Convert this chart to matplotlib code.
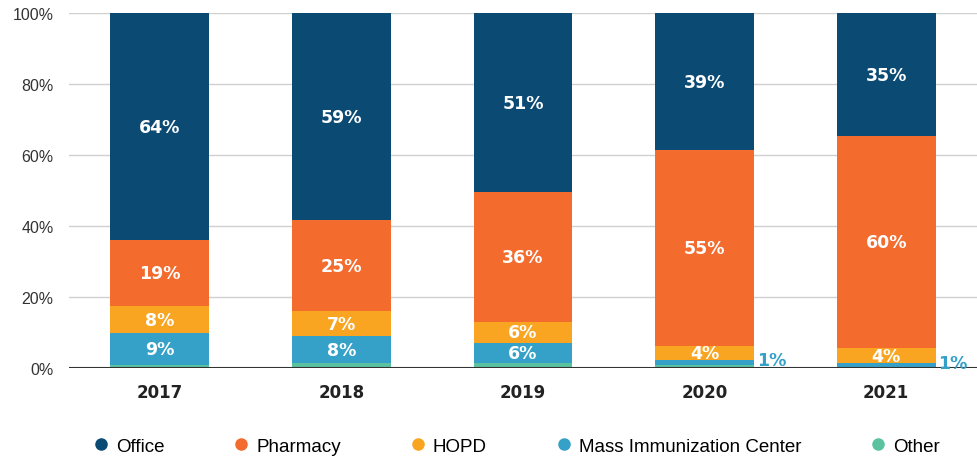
import numpy as np
import matplotlib.pyplot as plt
from matplotlib.lines import Line2D

# Sample data (share of vaccinations by site, %)
years = ['2017', '2018', '2019', '2020', '2021']
other = [0.8, 1.3, 1.3, 0.8, 0.4]
mass_imm = [9.0, 7.6, 5.8, 1.4, 0.9]
hopd = [7.6, 7.1, 5.8, 3.9, 4.3]
pharmacy = [18.6, 25.6, 36.6, 55.3, 59.8]
office = [64.0, 58.4, 50.5, 38.6, 34.6]

# labels shown on the chart
lbl_mass = ['9%', '8%', '6%', '1%', '1%']
lbl_hopd = ['8%', '7%', '6%', '4%', '4%']
lbl_pharmacy = ['19%', '25%', '36%', '55%', '60%']
lbl_office = ['64%', '59%', '51%', '39%', '35%']

colors = {
    'Office': '#0b4a73',
    'Pharmacy': '#f36b2d',
    'HOPD': '#f9a521',
    'Mass Immunization Center': '#35a0c8',
    'Other': '#5bc2a0',
}

fig = plt.figure(figsize=(9.77, 4.6), dpi=100)
ax = fig.add_axes([0.0706, 0.198, 0.9294, 0.771])

x = np.arange(len(years))
w = 0.545
series = [
    ('Other', other, None),
    ('Mass Immunization Center', mass_imm, lbl_mass),
    ('HOPD', hopd, lbl_hopd),
    ('Pharmacy', pharmacy, lbl_pharmacy),
    ('Office', office, lbl_office),
]

# gridlines
for g in [20, 40, 60, 80, 100]:
    ax.axhline(g, color='#d0d0d0', lw=1, zorder=0)
ax.axhline(0, color='#333333', lw=1.5, zorder=3)

bottom = np.zeros(len(years))
for name, vals, labels in series:
    vals = np.array(vals)
    ax.bar(x, vals, w, bottom=bottom, color=colors[name], zorder=2)
    if labels is not None:
        for i, (v, b, t) in enumerate(zip(vals, bottom, labels)):
            if name == 'Mass Immunization Center' and v < 2:
                # small segments labelled outside the bar
                ax.annotate(t, (x[i] + w / 2, b + v), xytext=(2, 0), textcoords='offset points',
                            ha='left', va='center', color=colors[name], fontsize=12.5,
                            fontweight='bold', zorder=4)
            else:
                ax.text(x[i], b + v / 2, t, ha='center', va='center', color='white',
                        fontsize=12.5, fontweight='bold', zorder=4)
    bottom = bottom + vals

ax.set_xlim(-0.5, len(years) - 0.5)
ax.set_ylim(0, 100)
ax.set_yticks([0, 20, 40, 60, 80, 100])
ax.set_yticklabels(['0%', '20%', '40%', '60%', '80%', '100%'], fontsize=11.5,
                   color='#333333', family='Liberation Sans')
ax.set_xticks(x)
ax.set_xticklabels(years, fontsize=12, fontweight='bold', color='#222222')
ax.tick_params(axis='both', length=0)
ax.tick_params(axis='y', pad=11)
ax.tick_params(axis='x', pad=11)
for s in ax.spines.values():
    s.set_visible(False)

# legend
order = ['Office', 'Pharmacy', 'HOPD', 'Mass Immunization Center', 'Other']
handles = [Line2D([0], [0], marker='o', color='none', markerfacecolor=colors[n],
                  markeredgecolor=colors[n], markersize=8, label=n) for n in order]
fig.legend(handles=handles, loc='center', bbox_to_anchor=(0.528, 0.028), ncol=5, frameon=False,
           prop={'family': 'Liberation Sans', 'size': 13.5}, handletextpad=0.3,
           columnspacing=3.6, handlelength=1.0)

plt.savefig('out.png', dpi=100)
